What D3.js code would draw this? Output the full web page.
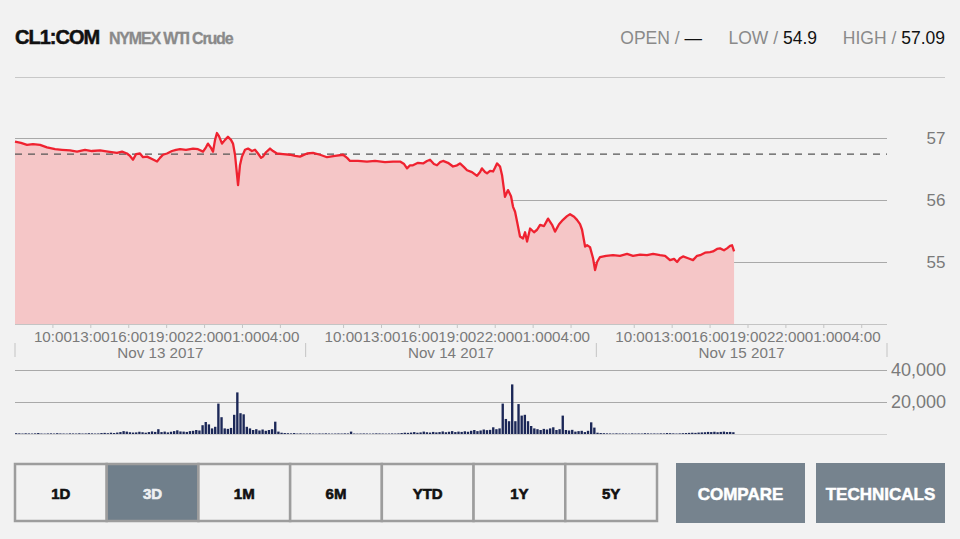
<!DOCTYPE html>
<head>
  <meta charset="utf-8">
  <script src="https://d3js.org/d3.v7.min.js"></script>
  <style>
    body { margin:0; background:#f2f2f2; }
    svg { display:block; }
    text { font-family: "Liberation Sans", Arial, sans-serif; }
  </style>
</head>

<body>
  <script>
    // hours after the 07:00 session open of Nov 13 (each session is 23h)
    var priceHours = [
      0, 0.47, 0.95, 1.42, 1.98, 2.53, 3.17, 3.72, 4.35, 4.91, 5.54, 6.09, 6.73, 7.36, 8.07, 8.47, 8.86, 9.10, 9.34, 9.58,
      9.89, 10.13, 10.45, 10.84, 11.24, 11.47, 11.71, 12.03, 12.42, 12.74, 13.06, 13.53, 14.09, 14.48, 14.88, 15.11, 15.27, 15.51, 15.67, 15.83,
      15.98, 16.14, 16.38, 16.62, 16.85, 17.09, 17.25, 17.41, 17.57, 17.65, 17.80, 17.96, 18.20, 18.44, 18.75, 18.99, 19.23, 19.47, 19.62, 19.86,
      20.18, 20.42, 20.73, 21.21, 21.76, 22.16, 22.55,
      23.11, 23.58, 24.14, 24.69, 25.32, 25.96, 26.28, 26.51, 27.14, 27.85, 28.49, 29.28, 29.91, 30.47, 30.79, 31.02, 31.26, 31.49, 31.89, 32.29,
      32.60, 32.84, 33.15, 33.39, 33.63, 33.87, 34.26, 34.66, 34.98, 35.21, 35.53, 35.77, 36.16, 36.56, 36.80, 36.95, 37.19, 37.35, 37.59, 37.83,
      37.98, 38.14, 38.38, 38.54, 38.77, 39.01, 39.25, 39.41, 39.57, 39.73, 39.96, 40.20, 40.36, 40.52, 40.76, 41.07, 41.31, 41.55, 41.86, 42.18,
      42.50, 42.73, 43.05, 43.36, 43.68, 43.92, 44.24, 44.47, 44.71, 44.87, 45.11, 45.27, 45.50, 45.74, 45.90,
      46.06, 46.29, 46.77, 47.32, 47.87, 48.43, 48.90, 49.46, 50.01, 50.49, 51.04, 51.44, 51.83, 52.15, 52.39, 52.62, 52.86, 53.26, 53.65, 53.97,
      54.21, 54.60, 55.00, 55.23, 55.55, 55.79, 56.10, 56.34, 56.58, 56.74, 56.90
    ];
    var prices = [
      56.94, 56.92, 56.89, 56.90, 56.89, 56.85, 56.82, 56.81, 56.80, 56.78, 56.81, 56.79, 56.80, 56.78, 56.76, 56.78, 56.75, 56.71, 56.65, 56.74,
      56.75, 56.69, 56.70, 56.66, 56.62, 56.68, 56.73, 56.75, 56.79, 56.81, 56.82, 56.81, 56.83, 56.82, 56.78, 56.85, 56.91, 56.84, 56.78, 56.97,
      57.08, 57.03, 56.91, 56.97, 57.02, 56.97, 56.91, 56.73, 56.40, 56.24, 56.56, 56.70, 56.81, 56.83, 56.79, 56.81, 56.75, 56.68, 56.70, 56.77,
      56.83, 56.79, 56.75, 56.74, 56.73, 56.71, 56.70,
      56.75, 56.76, 56.73, 56.69, 56.71, 56.73, 56.68, 56.63, 56.63, 56.62, 56.63, 56.61, 56.62, 56.62, 56.58, 56.51, 56.56, 56.56, 56.60, 56.59,
      56.63, 56.65, 56.58, 56.56, 56.61, 56.63, 56.60, 56.54, 56.56, 56.59, 56.53, 56.48, 56.45, 56.39, 56.45, 56.51, 56.45, 56.43, 56.47, 56.46,
      56.52, 56.59, 56.54, 56.40, 56.05, 56.16, 56.06, 55.89, 55.81, 55.65, 55.41, 55.38, 55.48, 55.33, 55.54, 55.48, 55.52, 55.60, 55.58, 55.70,
      55.60, 55.49, 55.61, 55.68, 55.74, 55.77, 55.73, 55.68, 55.61, 55.52, 55.25, 55.27, 55.24, 55.06, 54.87,
      55.00, 55.08, 55.10, 55.11, 55.10, 55.13, 55.10, 55.12, 55.11, 55.13, 55.11, 55.10, 55.03, 55.05, 55.00, 55.06, 55.09, 55.06, 55.03, 55.10,
      55.11, 55.15, 55.16, 55.17, 55.21, 55.22, 55.19, 55.22, 55.26, 55.27, 55.17
    ];
    // 15-minute volume per session
    var vol13 = [
      500, 400, 300, 450, 350, 300, 400, 600, 300, 250, 350, 400, 300, 500, 350, 300, 250, 400, 350, 300,
      450, 300, 350, 500, 400, 300, 350, 600, 700, 500, 800, 600, 900, 1200, 1800, 1500, 1100, 900, 1000, 1400,
      1100, 800, 1200, 1600, 1300, 3000, 1200, 1500, 1000, 1400, 1800, 2300, 1600, 1500, 1300, 1800, 2000, 2500, 2200, 5500,
      7500, 6000, 3500, 4500, 19000, 10500, 3500, 3200, 3800, 12000, 26000, 13000, 12300, 4500, 3500, 2500, 3000, 2200, 2800, 2000,
      2500, 3000, 7700, 1500, 800, 600, 500, 400, 600, 300, 400, 300
    ];
    var vol14 = [
      300, 400, 300, 250, 350, 300, 400, 300, 250, 300, 350, 300, 400, 350, 1500, 300, 250, 300, 350, 300,
      250, 300, 400, 350, 300, 250, 300, 350, 300, 400, 600, 800, 700, 900, 1200, 800, 1000, 1500, 1100, 900,
      1300, 1000, 1200, 1600, 1100, 1400, 1800, 1200, 1500, 1300, 1700, 1400, 2000, 2500, 1800, 2200, 2800, 2400, 2600, 4200,
      3000, 3500, 19000, 9400, 8000, 31000, 8000, 18700, 11500, 12000, 8000, 5000, 3500, 3000, 2500, 3200, 2800, 3500, 4200, 2500,
      3000, 11500, 2500, 2200, 2600, 1500, 1800, 2000, 1200, 2000, 7300, 4000
    ];
    var vol15 = [
      800, 600, 500, 400, 350, 300, 400, 300, 350, 300, 250, 400, 300, 350, 300, 500, 400, 300, 350, 300,
      400, 350, 600, 500, 400, 300, 400, 500, 600, 700, 800, 700, 900, 1000, 1100, 1300, 1200, 1400, 1100, 1300,
      1500, 1200, 1300, 1100
    ];
    var days = ["Nov 13 2017", "Nov 14 2017", "Nov 15 2017"];
    var hourTicks = [3, 6, 9, 12, 15, 18, 21];
    var priceTicks = [55, 56, 57];
    var volTicks = [20000, 40000];
    var prevClose = 56.74;
    var ranges = ["1D", "3D", "1M", "6M", "YTD", "1Y", "5Y"];
    var actions = ["COMPARE", "TECHNICALS"];

    var W = 960, H = 539;
    var sessionLen = 23, openHour = 7;

    var svg = d3.select("body").append("svg")
      .attr("width", W)
      .attr("height", H);
    svg.append("rect").attr("width", W).attr("height", H).attr("fill", "#f2f2f2");

    var x = d3.scaleLinear().domain([0, sessionLen * days.length]).range([15, 887]);
    var y = d3.scaleLinear().domain([54, 58]).range([324, 76]);
    var yv = d3.scaleLinear().domain([0, 40000]).range([434, 370]);

    // header
    svg.append("text").attr("x", 15).attr("y", 44)
      .attr("font-size", 20).attr("font-weight", "bold").attr("letter-spacing", -1)
      .attr("fill", "#111").attr("stroke", "#111").attr("stroke-width", 0.5).text("CL1:COM");
    svg.append("text").attr("x", 109).attr("y", 44)
      .attr("font-size", 16).attr("font-weight", "bold").attr("letter-spacing", -1.2)
      .attr("fill", "#8a8a8a").attr("stroke", "#8a8a8a").attr("stroke-width", 0.3).text("NYMEX WTI Crude");

    var stats = [["OPEN", "\u2014", 702], ["LOW", "54.9", 817], ["HIGH", "57.09", 945]];
    stats.forEach(function(s) {
      var t = svg.append("text").attr("x", s[2]).attr("y", 44)
        .attr("font-size", 17.5).attr("text-anchor", "end");
      t.append("tspan").attr("fill", "#8a8a8a").text(s[0] + " / ");
      t.append("tspan").attr("fill", "#111").text(s[1]);
    });

    svg.append("line").attr("x1", 15).attr("x2", 945).attr("y1", 77.5).attr("y2", 77.5)
      .attr("stroke", "#c8c8c8");

    // price gridlines + labels
    svg.append("g").selectAll("line").data(priceTicks).enter().append("line")
      .attr("x1", x.range()[0]).attr("x2", x.range()[1])
      .attr("y1", function(d) { return Math.round(y(d)) + 0.5; })
      .attr("y2", function(d) { return Math.round(y(d)) + 0.5; })
      .attr("stroke", "#a9a9a9");
    svg.append("g").selectAll("text").data(priceTicks).enter().append("text")
      .attr("x", 936).attr("y", function(d) { return y(d); }).attr("dy", "0.36em")
      .attr("text-anchor", "middle").attr("font-size", 17).attr("fill", "#7a7a7a")
      .text(function(d) { return d; });

    // price area + line
    var pts = priceHours.map(function(h, i) { return [h, prices[i]]; });
    var area = d3.area()
      .x(function(d) { return x(d[0]); })
      .y0(y(54))
      .y1(function(d) { return y(d[1]); });
    var line = d3.line()
      .x(function(d) { return x(d[0]); })
      .y(function(d) { return y(d[1]); });

    svg.append("path").datum(pts).attr("d", area).attr("fill", "#f5c6c7");
    svg.append("line")
      .attr("x1", x.range()[0]).attr("x2", x.range()[1])
      .attr("y1", y(prevClose)).attr("y2", y(prevClose))
      .attr("stroke", "#555").attr("stroke-width", 1.3).attr("stroke-dasharray", "7,6");
    svg.append("path").datum(pts).attr("d", line)
      .attr("fill", "none").attr("stroke", "#ef2230").attr("stroke-width", 2.3)
      .attr("stroke-linejoin", "round");

    // time axis
    svg.append("line").attr("x1", x.range()[0]).attr("x2", x.range()[1])
      .attr("y1", 324.5).attr("y2", 324.5).attr("stroke", "#c4c4c4");
    var axisG = svg.append("g");
    days.forEach(function(day, di) {
      var start = di * sessionLen;
      hourTicks.forEach(function(h) {
        axisG.append("line").attr("x1", x(start + h)).attr("x2", x(start + h))
          .attr("y1", 324).attr("y2", 328).attr("stroke", "#c4c4c4");
        axisG.append("text").attr("x", x(start + h)).attr("y", 342)
          .attr("text-anchor", "middle").attr("font-size", 15.2).attr("fill", "#7a7a7a")
          .text(d3.format("02")((openHour + h) % 24) + ":00");
      });
      axisG.append("text").attr("x", x(start + sessionLen / 2)).attr("y", 358)
        .attr("text-anchor", "middle").attr("font-size", 15.2).attr("fill", "#7a7a7a")
        .text(day);
    });
    d3.range(days.length + 1).forEach(function(i) {
      axisG.append("line").attr("x1", x(i * sessionLen)).attr("x2", x(i * sessionLen))
        .attr("y1", 343).attr("y2", 357).attr("stroke", "#c4c4c4");
    });

    // volume panel
    svg.append("g").selectAll("line").data([0].concat(volTicks)).enter().append("line")
      .attr("x1", x.range()[0]).attr("x2", x.range()[1])
      .attr("y1", function(d) { return Math.round(yv(d)) + 0.5; })
      .attr("y2", function(d) { return Math.round(yv(d)) + 0.5; })
      .attr("stroke", function(d) { return d ? "#a9a9a9" : "#d0d0d0"; });
    svg.append("g").selectAll("text").data(volTicks).enter().append("text")
      .attr("x", 946).attr("y", function(d) { return yv(d); }).attr("dy", "0.36em")
      .attr("text-anchor", "end").attr("font-size", 18).attr("fill", "#7a7a7a")
      .text(d3.format(","));

    var bars = [];
    [vol13, vol14, vol15].forEach(function(vols, di) {
      vols.forEach(function(v, i) { bars.push({ h: di * sessionLen + i * 0.25, v: v }); });
    });
    var bw = x(0.25) - x(0);
    svg.append("g").selectAll("rect").data(bars).enter().append("rect")
      .attr("x", function(d) { return x(d.h); })
      .attr("y", function(d) { return yv(d.v); })
      .attr("width", bw - 0.8)
      .attr("height", function(d) { return yv(0) - yv(d.v); })
      .attr("fill", "#1b2757");

    // range buttons
    var bx = d3.scaleBand().domain(ranges).range([15, 657]);
    var btn = svg.append("g");
    btn.selectAll("rect").data(ranges).enter().append("rect")
      .attr("x", function(d) { return bx(d); }).attr("y", 464)
      .attr("width", bx.bandwidth()).attr("height", 57)
      .attr("fill", function(d) { return d === "3D" ? "#707f8b" : "#f2f2f2"; })
      .attr("stroke", "#9d9d9d").attr("stroke-width", 2.5);
    btn.selectAll("text").data(ranges).enter().append("text")
      .attr("x", function(d) { return bx(d) + bx.bandwidth() / 2; }).attr("y", 499)
      .attr("text-anchor", "middle").attr("font-size", 15).attr("font-weight", "bold")
      .attr("stroke-width", 0.6)
      .attr("fill", function(d) { return d === "3D" ? "#eef0f2" : "#111"; })
      .attr("stroke", function(d) { return d === "3D" ? "#eef0f2" : "#111"; })
      .text(function(d) { return d; });

    var ax = d3.scaleOrdinal().domain(actions).range([[676, 129], [816, 129]]);
    var act = svg.append("g");
    act.selectAll("rect").data(actions).enter().append("rect")
      .attr("x", function(d) { return ax(d)[0]; }).attr("y", 463)
      .attr("width", function(d) { return ax(d)[1]; }).attr("height", 60)
      .attr("fill", "#76838e");
    act.selectAll("text").data(actions).enter().append("text")
      .attr("x", function(d) { return ax(d)[0] + ax(d)[1] / 2; }).attr("y", 500)
      .attr("text-anchor", "middle").attr("font-size", 17).attr("font-weight", "bold")
      .attr("fill", "#fff").attr("stroke", "#fff").attr("stroke-width", 0.5)
      .text(function(d) { return d; });
  </script>
</body>
